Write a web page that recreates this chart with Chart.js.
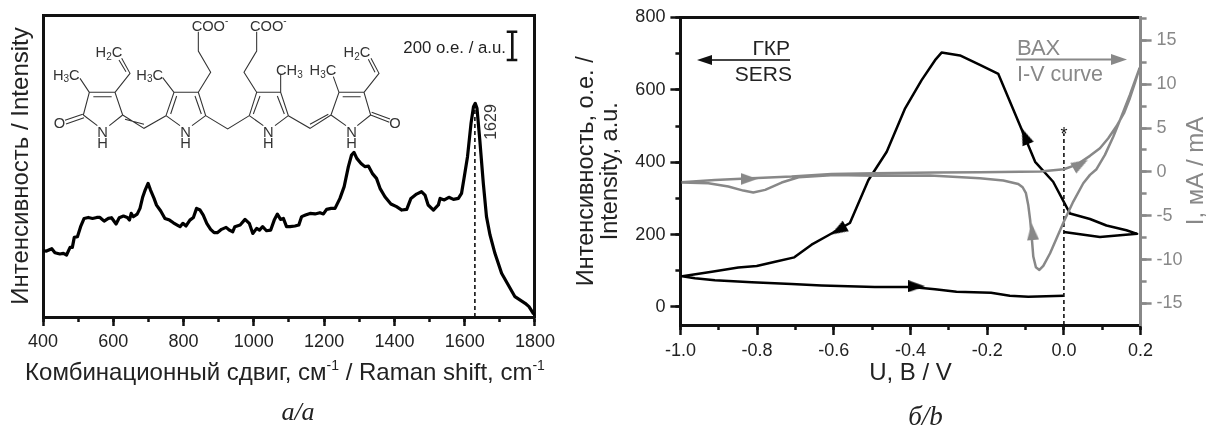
<!DOCTYPE html>
<html><head><meta charset="utf-8">
<script src="https://cdn.jsdelivr.net/npm/chart.js@4"></script>
<style>
html,body{margin:0;padding:0;background:#fff;width:1206px;height:427px;overflow:hidden}
canvas{position:absolute;top:0}
#a{left:0}#b{left:560px}
svg{position:absolute;left:0;top:0;pointer-events:none}
svg text{font-family:"Liberation Sans",Arial,sans-serif}
</style></head><body>
<canvas id="a" width="560" height="427"></canvas>
<canvas id="b" width="646" height="427"></canvas>
<svg width="1206" height="427" xmlns="http://www.w3.org/2000/svg">
 <g transform="translate(40,15) scale(0.33333)" fill="none" stroke="#333" stroke-width="3.2">
  <path d="M75 316L128 298M78 327L132 308M130 300L148 232L225 232L248 300M160 245L215 245M130 300L172 332M248 300L208 332M148 232L120 190M225 232L270 175L245 130M258 170L237 135M248 300L312 340L378 302M255 313L312 328"/>
  <path d="M378 302L402 232L475 232L497 302L456 332M378 302L420 332M392 297L410 243M484 297L465 243M402 232L368 188M475 232L512 172L475 108L475 50M497 302L563 342L628 302"/>
  <path d="M628 302L650 232L722 232L745 302L705 332M628 302L670 332M640 297L660 243M712 243L733 297M650 232L612 172L650 108L650 50M722 232L722 180"/>
  <path d="M745 302L810 340L873 300M810 328L865 298M873 300L897 232L972 232L992 300L952 332M873 300L918 332M908 245L962 245M992 300L1048 322M995 292L1050 312M897 232L880 185M972 232L1017 175L993 130M1005 172L985 133"/>
 </g>
 <g transform="translate(40,15) scale(0.33333)" fill="#333" font-size="44" text-anchor="middle">
  <text x="58" y="340">O</text>
  <text x="188" y="365">N</text><text x="188" y="400">H</text>
  <text x="437" y="365">N</text><text x="437" y="400">H</text>
  <text x="685" y="365">N</text><text x="685" y="400">H</text>
  <text x="935" y="365">N</text><text x="935" y="400">H</text>
  <text x="1065" y="340">O</text>
  <text x="79" y="194">H<tspan font-size="30" dy="8">3</tspan><tspan dy="-8">C</tspan></text>
  <text x="207" y="126">H<tspan font-size="30" dy="8">2</tspan><tspan dy="-8">C</tspan></text>
  <text x="329" y="194">H<tspan font-size="30" dy="8">3</tspan><tspan dy="-8">C</tspan></text>
  <text x="748" y="181">CH<tspan font-size="30" dy="8">3</tspan></text>
  <text x="849" y="181">H<tspan font-size="30" dy="8">3</tspan><tspan dy="-8">C</tspan></text>
  <text x="951" y="126">H<tspan font-size="30" dy="8">2</tspan><tspan dy="-8">C</tspan></text>
  <text x="510" y="48">COO<tspan font-size="30" dy="-20">-</tspan></text>
  <text x="685" y="48">COO<tspan font-size="30" dy="-20">-</tspan></text>
 </g>
 <g fill="none" stroke="#111" stroke-width="2.6"><path d="M512.3 31.7V60M506.7 31.7H517.3M506.7 60H517.3"/></g>
 <text x="506" y="53" font-size="16.8" text-anchor="end" fill="#222">200 o.e. / a.u.</text>
 <text transform="translate(496,122) rotate(-90)" font-size="16" text-anchor="middle" fill="#333">1629</text>
 <text x="285" y="380" font-size="24" text-anchor="middle" fill="#222">Комбинационный сдвиг, см<tspan font-size="14" dy="-10">-1</tspan><tspan dy="10"> / Raman shift, cm</tspan><tspan font-size="14" dy="-10">-1</tspan></text>

 <text x="790" y="55" font-size="21" text-anchor="end" fill="#222">ГКР</text>
 <text x="792" y="81" font-size="21" text-anchor="end" fill="#222">SERS</text>
 <path d="M711 60H790" stroke="#444" stroke-width="1.8"/>
 <path d="M697 60L712 55V65Z" fill="#111"/>
 <text x="1017" y="55" font-size="22" fill="#888">ВАХ</text>
 <text x="1017" y="81" font-size="21.5" fill="#888">I-V curve</text>
 <path d="M1016 59.5H1113" stroke="#888" stroke-width="1.8"/>
 <path d="M1127 59.5L1111 54V65Z" fill="#888"/>
 <text x="1064" y="140" font-size="18" text-anchor="middle" fill="#111">*</text>
 <text transform="translate(1203,171) rotate(-90)" font-size="24" text-anchor="middle" fill="#888">I, мА / mA</text>

 <text x="298" y="420" font-size="26" font-style="italic" text-anchor="middle" fill="#222" style="font-family:'Liberation Serif'">а/a</text>
 <text x="925.5" y="425" font-size="27" font-style="italic" text-anchor="middle" fill="#222" style="font-family:'Liberation Serif'">б/b</text>
</svg>
<script>
const ramanShift=[401,410,425,434,448,458,467,477,483.5,489,498,507,517,529,541,553,562,574,586,595,608,617,629,640,646,651,657,668,676,684,690,699,706,716,723,735,747,760,771,782,790,798,807,818,828,837,847,856,866,877,887,896,908,921,930,940,946,961,975,987,997,1008,1016,1025,1036,1048,1058,1067,1076,1084,1093,1103,1117,1128,1136,1147,1160,1174,1188,1198,1207,1220,1231,1245,1257,1269,1278,1285,1293,1305,1316,1326,1337,1349,1359,1373,1390,1406,1421,1435,1447,1463,1477,1487,1496,1511,1525,1530,1542,1555,1568,1582,1591,1598,1608,1618,1625,1630,1635,1643,1653,1662,1672,1686,1705,1724,1743,1757,1772,1783,1795,1800];
const ramanIntensity=[473,471,488,459,450,454,443,497,497,569,573,645,704,711,704,711,711,685,704,709,664,709,721,711,692,740,716,735,776,859,902,954,907,847,799,757,704,692,673,657,645,669,650,692,711,776,764,728,669,626,602,602,626,640,621,609,645,657,697,669,597,633,621,645,616,621,692,735,697,704,645,645,650,657,717,728,740,736,745,736,769,776,776,847,931,1074,1157,1176,1133,1097,1074,1078,1026,990,919,859,807,788,764,769,847,878,895,871,800,764,800,847,836,855,840,847,883,990,1145,1383,1502,1526,1490,1264,955,717,586,455,312,229,145,122,98,74,26,15];
const peakShift=[1629,1629];
const peakLevel=[0,1526];

const sersPotential=[0,-0.093,-0.141,-0.19,-0.28,-0.336,-0.397,-0.493,-0.632,-0.71,-0.814,-0.91,-0.962,-0.995,-0.918,-0.849,-0.801,-0.753,-0.703,-0.658,-0.614,-0.558,-0.51,-0.462,-0.414,-0.371,-0.336,-0.319,-0.271,-0.219,-0.171,-0.115,-0.075,-0.028,0.016,0.068,0.111,0.163,0.191,0.094,0];
const sersIntensity=[31,28,31,39,42,49,55,55,59,63,68,74,79,85,97,109,113,125,137,172,198,232,350,429,549,627,682,703,695,669,644,503,401,346,258,243,225,212,202,193,207];
const ivPotential=[-0.997,-0.91,-0.814,-0.71,-0.606,-0.493,-0.336,-0.219,-0.062,0,0.0245,0.042,0.068,0.094,0.1157,0.137,0.1566,0.172,0.185,0.197,0.172,0.15,0.129,0.107,0.085,0.068,0.0505,0.0245,0,-0.019,-0.036,-0.0537,-0.064,-0.073,-0.0798,-0.084,-0.088,-0.093,-0.099,-0.1076,-0.119,-0.158,-0.219,-0.349,-0.493,-0.597,-0.692,-0.736,-0.779,-0.81,-0.836,-0.875,-0.927,-0.997];
const ivCurrent=[-1.18,-0.91,-0.72,-0.53,-0.23,-0.15,-0.07,-0.04,0.04,0.3,0.69,1.07,1.83,2.7,3.84,5.2,6.69,8.4,10.11,11.8,8.78,6.31,4.03,1.94,0.31,-0.34,-1.29,-3.38,-5.66,-7.56,-9.27,-10.71,-11.17,-10.87,-9.65,-7.37,-5.47,-3.76,-2.43,-1.75,-1.37,-0.99,-0.72,-0.42,-0.45,-0.34,-0.61,-1.21,-2.05,-2.35,-2.13,-1.67,-1.29,-1.2];
const sersArrowU=[-0.384,-0.588,-0.1015];
const sersArrowV=[57,212,472];
const sersArrowAngle=[90,240,338];
const ivArrowU=[-0.821,-0.0824,0.0436];
const ivArrowI=[-0.8,-6.8,0.9];
const ivArrowAngle=[90,355,60];
const markerU=[0,0];
const markerV=[-50,480];

const pts=(xs,ys)=>xs.map((x,i)=>({x,y:ys[i]}));
const FONT='"Liberation Sans",Arial,sans-serif';
const INK='#111', TXT='#222', GREY='#888';
const sized=(w,h)=>s=>{ if(w!==null) s.width=w; if(h!==null) s.height=h; };
function arrowHead(color){
  const c=document.createElement('canvas');c.width=12;c.height=17;
  const g=c.getContext('2d');g.fillStyle=color;g.beginPath();g.moveTo(6,0);g.lineTo(12,17);g.lineTo(0,17);g.closePath();g.fill();
  return c;
}
function minorAxis(position,min,max,step,color,tl){
  return {type:'linear',position,min,max,weight:0,afterFit:(position==='bottom'||position==='top')?sized(null,0):sized(0,null),
    border:{display:false},
    grid:{display:true,drawOnChartArea:false,drawTicks:true,tickLength:tl,tickWidth:2.5,tickColor:color,color},
    ticks:{stepSize:step,includeBounds:false,autoSkip:false,display:false}};
}
function frameAxis(position,min,max,color,size){
  const horizontal=position==='top'||position==='bottom';
  return {type:'linear',position,min,max,weight:1,afterFit:horizontal?sized(null,size):sized(size,null),
    border:{display:true,color,width:3},
    grid:{display:true,drawOnChartArea:false,drawTicks:false,color},
    ticks:{display:false}};
}
function majorAxis(position,min,max,step,color,size,title,font,tl,pad,fmt,lh){
  const horizontal=position==='top'||position==='bottom';
  return {type:'linear',position,min,max,weight:1,afterFit:horizontal?sized(null,size):sized(size,null),
    border:{display:true,color,width:3},
    grid:{display:true,drawOnChartArea:false,drawTicks:true,tickLength:tl,tickWidth:2.5,tickColor:color,color},
    ticks:{stepSize:step,includeBounds:false,autoSkip:false,maxRotation:0,minRotation:0,padding:pad,
      color:color===GREY?GREY:TXT,font:{family:FONT,size:font},callback:fmt},
    title:title?{display:true,text:title,color:TXT,font:{family:FONT,size:title.length===2?23.5:24,lineHeight:lh||1.2},padding:0}:{display:false}};
}
const plain=v=>String(v);
const oneDecimal=v=>Math.abs(v)<1e-9?'0.0':v.toFixed(1);
const base={responsive:false,animation:false,devicePixelRatio:1,
  plugins:{legend:{display:false},tooltip:{enabled:false}},
  elements:{point:{radius:0},line:{tension:0,borderJoinStyle:'round'}}};

new Chart(document.getElementById('a'),{type:'scatter',
 data:{datasets:[
  {data:pts(ramanShift,ramanIntensity),showLine:true,borderColor:'#000',borderWidth:3.2,pointRadius:0,xAxisID:'x',yAxisID:'y'},
  {data:pts(peakShift,peakLevel),showLine:true,borderColor:'#111',borderWidth:1.6,borderDash:[4,3],pointRadius:0,xAxisID:'x',yAxisID:'y'}
 ]},
 options:{...base,layout:{autoPadding:false,padding:{left:6.6,top:0,right:0,bottom:40.6}},
  scales:{
   x:majorAxis('bottom',400,1800,200,INK,69.4,null,18,9,5,plain),
   xMinor:minorAxis('bottom',400,1800,100,INK,5),
   xTop:frameAxis('top',400,1800,INK,15),
   y:{...frameAxis('left',0,2157,INK,36.4),title:{display:true,text:'Интенсивность / Intensity',color:TXT,font:{family:FONT,size:24},padding:0}},
   yRight:frameAxis('right',0,2157,INK,25)
  }}});

new Chart(document.getElementById('b'),{type:'scatter',
 data:{datasets:[
  {data:pts(ivArrowU,ivArrowI),showLine:false,pointStyle:arrowHead(GREY),pointRadius:8,pointRotation:ivArrowAngle,xAxisID:'x',yAxisID:'yI'},
  {data:pts(sersArrowU,sersArrowV),showLine:false,pointStyle:arrowHead('#000'),pointRadius:8,pointRotation:sersArrowAngle,xAxisID:'x',yAxisID:'y'},
  {data:pts(ivPotential,ivCurrent),showLine:true,borderColor:GREY,borderWidth:2.5,pointRadius:0,xAxisID:'x',yAxisID:'yI'},
  {data:pts(markerU,markerV),showLine:true,borderColor:'#111',borderWidth:1.6,borderDash:[4,3],pointRadius:0,xAxisID:'x',yAxisID:'y'},
  {data:pts(sersPotential,sersIntensity),showLine:true,borderColor:'#000',borderWidth:2.5,pointRadius:0,xAxisID:'x',yAxisID:'y'}
 ]},
 options:{...base,layout:{autoPadding:false,padding:{left:14,top:0,right:0,bottom:39.6}},
  scales:{
   x:majorAxis('bottom',-1,0.2,0.2,INK,62.4,'U, В / V',18,10,5,oneDecimal),
   xMinor:minorAxis('bottom',-1,0.2,0.1,INK,5),
   xTop:frameAxis('top',-1,0.2,INK,17.5),
   y:majorAxis('left',-50,800,200,INK,106.4,['Интенсивность, о.е. /','Intensity, a.u.'],18,10,5,plain,1.05),
   yMinor:minorAxis('left',-50,800,100,INK,5),
   yI:majorAxis('right',-17.45,17.6,5,GREY,65.4,null,18,11,5,plain),
   yIMinor:minorAxis('right',-17.45,17.6,2.5,GREY,6)
  }}});
</script>
</body></html>
